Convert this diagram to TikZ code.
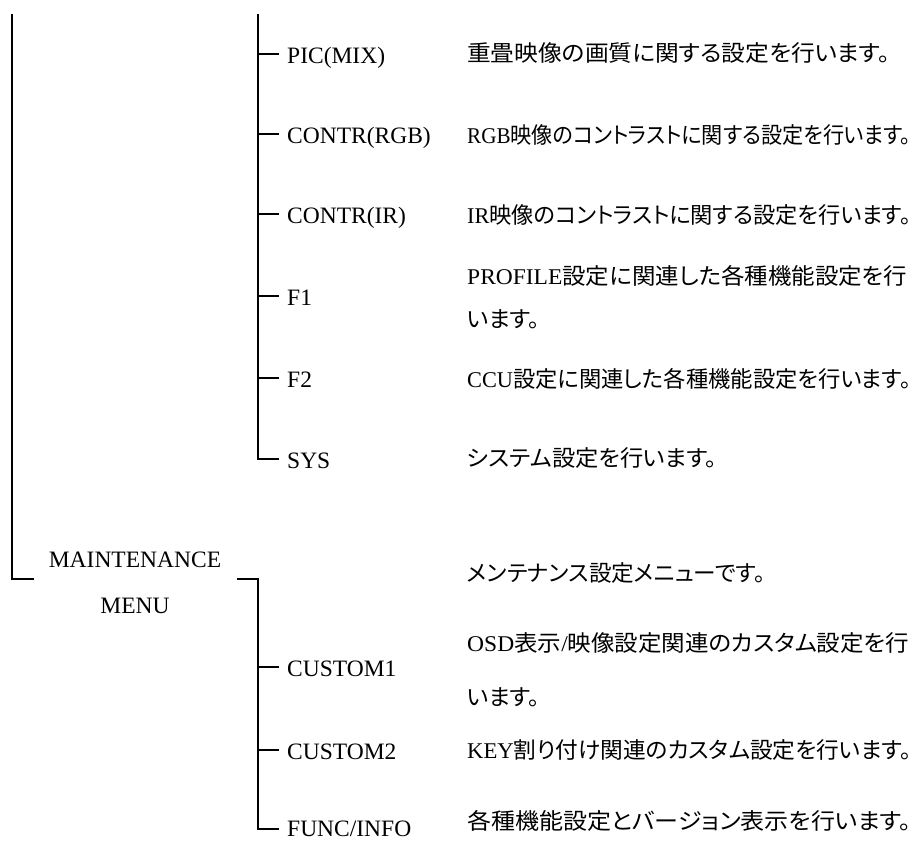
\documentclass[tikz,border=0pt]{standalone}
\usepackage{fontspec}
\usepackage{graphicx}
\setmainfont{Liberation Serif}
\newfontfamily\jp[RawFeature=+palt]{Noto Sans CJK JP}
\usetikzlibrary{calc}
\newcommand\fitw[2]{\resizebox{#1pt}{\height}{#2}}
\begin{document}
\begin{tikzpicture}[x=1pt,y=-1pt,
  ln/.style={line width=2pt},
  lab/.style={anchor=base west, inner sep=0pt, font=\fontsize{23.5}{27}\selectfont},
  desc/.style={anchor=base west, inner sep=0pt, font=\fontsize{22.5}{27}\selectfont}]
\useasboundingbox (0,0) rectangle (924,841);
\coordinate (ltop) at (12.3,14);
\coordinate (rtop) at (258.3,14);
\coordinate (mmL) at (34,579.3);
\coordinate (mmR) at (236.7,579.3);
% labels
\node[lab] (pic) at (287,63) {PIC(MIX)};
\node[lab] (rgb) at (287,143) {CONTR(RGB)};
\node[lab] (ir) at (287,223) {CONTR(IR)};
\node[lab] (fa) at (287,305) {F1};
\node[lab] (fb) at (287,387) {F2};
\node[lab] (sys) at (287,468) {SYS};
\node[lab, anchor=base] (maint) at (135,567) {MAINTENANCE};
\node[lab, anchor=base] (menu) at (135,613) {MENU};
\node[lab] (cua) at (287,676) {CUSTOM1};
\node[lab] (cub) at (287,759) {CUSTOM2};
\node[lab] (func) at (287,836) {FUNC/INFO};
% descriptions
\node[desc] (d1) at (467,61.5) {\fitw{423}{\jp 重畳映像の画質に関する設定を行います。}};
\node[desc] (d2) at (467,143) {\fitw{444}{RGB{\jp 映像のコントラストに関する設定を行います。}}};
\node[desc] (d3) at (467,223) {\fitw{444}{IR{\jp 映像のコントラストに関する設定を行います。}}};
\node[desc] (d4a) at (467,284) {\fitw{440}{PROFILE{\jp 設定に関連した各種機能設定を行}}};
\node[desc] (d4b) at (467,327) {\fitw{73}{\jp います。}};
\node[desc] (d5) at (467,387) {\fitw{444}{CCU{\jp 設定に関連した各種機能設定を行います。}}};
\node[desc] (d6) at (467,466) {\fitw{250}{\jp システム設定を行います。}};
\node[desc] (d7) at (467,581) {\fitw{298}{\jp メンテナンス設定メニューです。}};
\node[desc] (d8a) at (467,651) {\fitw{442}{OSD{\jp 表示}/{\jp 映像設定関連のカスタム設定を行}}};
\node[desc] (d8b) at (467,705) {\fitw{73}{\jp います。}};
\node[desc] (d9) at (467,758) {\fitw{444}{KEY{\jp 割り付け関連のカスタム設定を行います。}}};
\node[desc] (d10) at (467,829) {\fitw{444}{\jp 各種機能設定とバージョン表示を行います。}};
% tick coordinates
\foreach \n in {pic,rgb,ir,fa,fb,sys,cua,cub}
  \coordinate (t\n) at ([xshift=-8pt,yshift=9pt]\n.base west);
\coordinate (tfunc) at ([xshift=-8pt,yshift=7pt]func.base west);
% connectors
\draw[ln] (ltop) |- (mmL);
\draw[ln] (rtop) |- (tsys);
\foreach \n in {pic,rgb,ir,fa,fb}
  \draw[ln] (rtop |- t\n) -- (t\n);
\draw[ln] (mmR) -| (rtop |- tfunc) -- (tfunc);
\draw[ln] (rtop |- tcua) -- (tcua);
\draw[ln] (rtop |- tcub) -- (tcub);
\end{tikzpicture}
\end{document}
